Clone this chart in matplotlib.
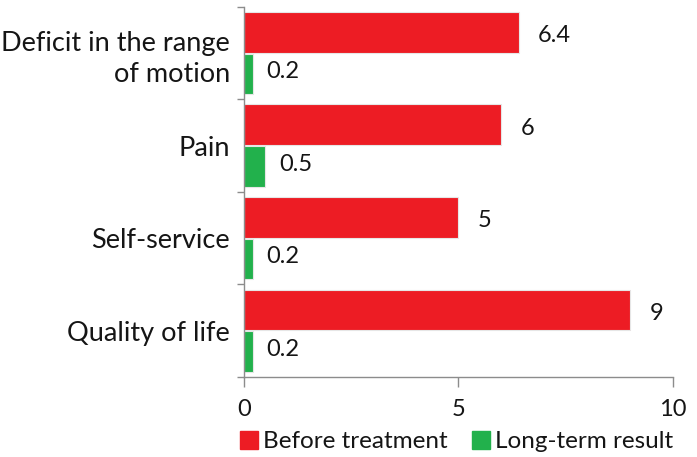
import matplotlib
matplotlib.use("Agg")
import matplotlib.pyplot as plt
import numpy as np
from matplotlib.patches import Patch

# data
categories = ["Deficit in the range\nof motion", "Pain", "Self-service", "Quality of life"]
before = [6.4, 6, 5, 9]
longterm = [0.2, 0.5, 0.2, 0.2]
before_labels = ["6.4", "6", "5", "9"]
longterm_labels = ["0.2", "0.5", "0.2", "0.2"]
xticks = [0, 5, 10]

red = "#ED1C24"
green = "#22B14C"
grey = "#8C8C8C"
txt = "#151515"

plt.rcParams["font.family"] = ["Lato", "DejaVu Sans"]

fig = plt.figure(figsize=(6.97, 4.57), dpi=100)
ax = fig.add_axes([0.350, 0.175, 0.6155, 0.810])

y = np.arange(len(categories))
h = 0.44
ax.barh(y - 0.225, before, height=h, color=red, edgecolor="#e6e6e6", linewidth=0.8)
ax.barh(y + 0.225, longterm, height=h, color=green, edgecolor="#e6e6e6", linewidth=0.8)

for yi, v, lab in zip(y, before, before_labels):
    ax.annotate(lab, (v, yi - 0.19), xytext=(14, 0), textcoords="offset points",
                va="center", ha="left", fontsize=17, color=txt)
for yi, v, lab in zip(y, longterm, longterm_labels):
    ax.annotate(lab, (v, yi + 0.2), xytext=(10, 0), textcoords="offset points",
                va="center", ha="left", fontsize=17, color=txt)

ax.set_xlim(0, 10)
ax.set_ylim(3.5, -0.5)
ax.set_xticks(xticks)
ax.set_xticklabels([str(t) for t in xticks], fontsize=17, color=txt)
ax.set_yticks(y)
ax.set_yticklabels(categories, fontsize=19.5, linespacing=1.3, color=txt)
ax.tick_params(axis="y", length=0, pad=10)
ax.set_yticks(np.arange(-0.5, 4, 1), minor=True)
ax.tick_params(axis="y", which="minor", length=5, color=grey, width=1)
ax.tick_params(axis="x", length=7, color=grey, width=1, pad=9)

for s in ["top", "right"]:
    ax.spines[s].set_visible(False)
for s in ["left", "bottom"]:
    ax.spines[s].set_color(grey)
    ax.spines[s].set_linewidth(1)

handles = [Patch(color=red, label="Before treatment"), Patch(color=green, label="Long-term result")]
fig.legend(handles=handles, loc="lower center", bbox_to_anchor=(0.655, -0.038), ncol=2,
           frameon=False, fontsize=17.5, handlelength=0.75, handleheight=0.75,
           handletextpad=0.2, columnspacing=1.0, labelcolor=txt)

fig.savefig("out.png", dpi=100)
